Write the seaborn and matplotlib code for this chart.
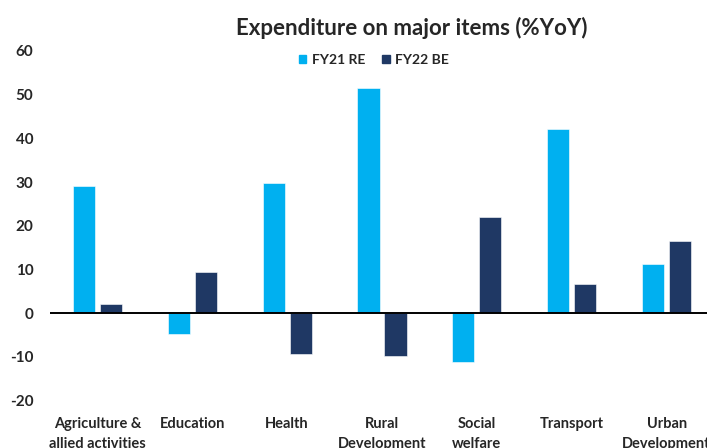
import matplotlib
matplotlib.use("Agg")
import matplotlib.pyplot as plt
import pandas as pd
import seaborn as sns

# Expenditure on major items, % YoY
categories = ["Agriculture &\nallied activities", "Education", "Health",
              "Rural\nDevelopment", "Social\nwelfare", "Transport",
              "Urban\nDevelopment"]
fy21_re = [29.1, -4.7, 29.7, 51.6, -11.1, 42.2, 11.2]
fy22_be = [2.1, 9.5, -9.3, -9.8, 22.1, 6.6, 16.5]
series = ["FY21 RE", "FY22 BE"]
colors = ["#00B0F0", "#1F3864"]
yticks = [-20, -10, 0, 10, 20, 30, 40, 50, 60]

df = pd.DataFrame({
    "item": categories * 2,
    "value": fy21_re + fy22_be,
    "series": [series[0]] * len(categories) + [series[1]] * len(categories),
})

sns.set_theme(style="white")
plt.rcParams["font.family"] = ["Lato", "DejaVu Sans"]
plt.rcParams["font.weight"] = "bold"

fig = plt.figure(figsize=(7.07, 4.48), dpi=100)
ax = fig.add_axes([50 / 707, 0.1056, 664 / 707, 0.7806])

sns.barplot(data=df, x="item", y="value", hue="series", order=categories,
            hue_order=series, palette=colors, width=0.57, gap=0.18,
            saturation=1, edgecolor="white", linewidth=0.4, ax=ax)

ax.set_xlim(-0.5, len(categories) - 0.5)
ax.set_ylim(-20, 60)
ax.set_yticks(yticks)
ax.set_yticklabels([str(t) for t in yticks], fontsize=11, fontweight="bold")
ax.set_xticks(range(len(categories)))
ax.set_xticklabels(categories, fontsize=10.5, fontweight="bold",
                   linespacing=1.5, va="top")
ax.tick_params(axis="y", length=0, pad=12)
ax.tick_params(axis="x", length=0, pad=12)
ax.set_xlabel("")
ax.set_ylabel("")
for s in ax.spines.values():
    s.set_visible(False)
ax.axhline(0, color="black", linewidth=1.4, zorder=3)

ax.legend_.remove()
handles = [plt.Rectangle((0, 0), 1, 1, color=c) for c in colors]
fig.legend(handles, series, loc="center", bbox_to_anchor=(374 / 707, 1 - 60 / 448),
           ncol=2, frameon=False, handlelength=0.55, handleheight=0.55,
           handletextpad=0.4, columnspacing=1.2, prop={"weight": "bold", "size": 10})

fig.text(412 / 707, 1 - 28 / 448, "Expenditure on major items (%YoY)",
         ha="center", va="center", fontsize=16, fontweight="bold")

fig.savefig("out.png", dpi=100)
